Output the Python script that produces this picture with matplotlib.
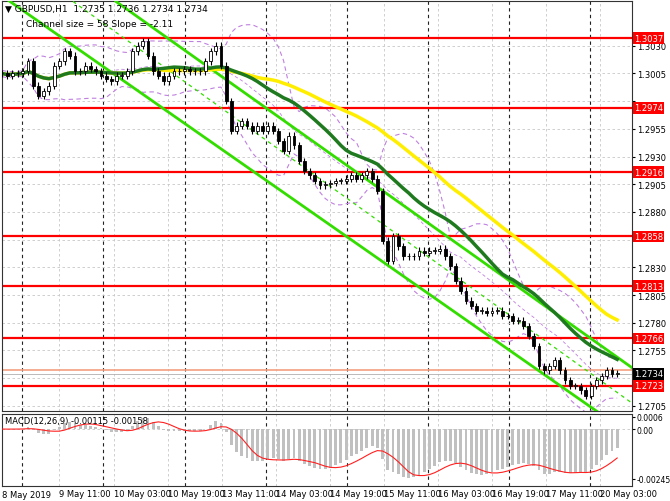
import numpy as np
import pandas as pd
import matplotlib
matplotlib.use("Agg")
import matplotlib.pyplot as plt
import matplotlib.transforms as mtrans

# closes, roughly every 1.5 trading hours
closes = [1.3005, 1.3003, 1.3005, 1.3005, 1.3007, 1.3016, 1.2994, 1.2985, 1.2989, 1.2994,
          1.3012, 1.3016, 1.3025, 1.3021, 1.3007, 1.3007, 1.3012, 1.3009, 1.3007, 1.3003,
          1.3000, 1.2998, 1.3003, 1.3003, 1.3007, 1.3025, 1.3030, 1.3034, 1.3021, 1.3007,
          1.3003, 1.2998, 1.3003, 1.3007, 1.3007, 1.3009, 1.3007, 1.3007, 1.3007, 1.3016,
          1.3025, 1.3030, 1.3012, 1.2980, 1.2953, 1.2958, 1.2962, 1.2958, 1.2953, 1.2958,
          1.2953, 1.2958, 1.2953, 1.2944, 1.2935, 1.2949, 1.2940, 1.2926, 1.2917, 1.2913,
          1.2908, 1.2904, 1.2905, 1.2906, 1.2908, 1.2908, 1.2910, 1.2913, 1.2910, 1.2913,
          1.2917, 1.2910, 1.2899, 1.2854, 1.2836, 1.2858, 1.2849, 1.2840, 1.2840, 1.2840,
          1.2845, 1.2843, 1.2845, 1.2845, 1.2847, 1.2840, 1.2831, 1.2818, 1.2809, 1.2800,
          1.2795, 1.2791, 1.2791, 1.2789, 1.2791, 1.2791, 1.2786, 1.2786, 1.2782, 1.2782,
          1.2777, 1.2768, 1.2759, 1.2741, 1.2737, 1.2741, 1.2746, 1.2737, 1.2728, 1.2723,
          1.2723, 1.2719, 1.2714, 1.2723, 1.2728, 1.2732, 1.2737, 1.2734, 1.2734]
levels = [1.3037, 1.2974, 1.2916, 1.2858, 1.2813, 1.2766, 1.2723]
last_price = 1.2734
ask_line = 1.2737

# trading hours since 8 May 00:00 (weekend removed)
t_start, t_end = 18, 200
tick_hours = [35, 51, 67, 83, 99, 115, 131, 147, 163, 179, 195]
tick_labels = ["9 May 11:00", "10 May 03:00", "10 May 19:00", "13 May 11:00", "14 May 03:00",
               "14 May 19:00", "15 May 11:00", "16 May 03:00", "16 May 19:00", "17 May 11:00",
               "20 May 03:00"]
day_seps = [24, 48, 72, 96, 120, 144, 168, 192]

# regression channel endpoints (hour, price)
ch_lower = [(18, 1.3075), (195, 1.2698)]
ch_upper = [(51.7, 1.3070), (206, 1.2736)]
ch_mid = [(39, 1.3070), (206, 1.2704)]

px_h = 3.38
xmin = t_start
xmax = t_start + 630 / px_h

s = pd.Series(closes)
x = np.linspace(t_start, t_end, len(closes))
opens = s.shift(1).fillna(s.iloc[0])
ma_fast = s.rolling(24, min_periods=1).mean()
ma_slow = s.rolling(44, min_periods=1).mean()
bb_mid = s.rolling(14, min_periods=1).mean()
bb_std = s.rolling(14, min_periods=2).std().bfill()
ema12 = s.ewm(span=8).mean()
ema26 = s.ewm(span=18).mean()
macd = ema12 - ema26
signal = macd.rolling(6, min_periods=1).mean()

fig = plt.figure(figsize=(6.7, 5.02), dpi=100)
ax = fig.add_axes([2 / 670, 90 / 502, 630 / 670, 410 / 502])
axm = fig.add_axes([2 / 670, 15 / 502, 630 / 670, 72 / 502])

for a in (ax, axm):
    a.set_xlim(xmin, xmax)
    a.yaxis.tick_right()
    a.tick_params(labelsize=6, length=2, pad=2)
    for sp in a.spines.values():
        sp.set_color("#333333")
        sp.set_linewidth(0.8)
    for h in tick_hours:
        a.axvline(h, color="#c8c8c8", ls=(0, (3, 3)), lw=0.6, zorder=0)
    for h in day_seps:
        a.axvline(h, color="#222222", ls=(0, (3, 3)), lw=0.8, zorder=0)

ax.set_ylim(1.27004, 1.30704)
pticks = np.arange(1.2705, 1.3031, 0.0025)
ax.set_yticks(pticks)
ax.set_yticklabels(["" if min(abs(p - lv) for lv in levels + [last_price]) < 0.0006 else f"{p:.4f}"
                    for p in pticks])
for p in pticks:
    ax.axhline(p, color="#c8c8c8", ls=(0, (3, 3)), lw=0.6, zorder=0)
ax.set_xticks([])

# bollinger
ax.plot(x, bb_mid + 2 * bb_std, color="#c080e0", ls=(0, (4, 3)), lw=0.8, zorder=1)
ax.plot(x, bb_mid - 2 * bb_std, color="#c080e0", ls=(0, (4, 3)), lw=0.8, zorder=1)
ax.plot(x, bb_mid, color="#c080e0", ls=(0, (4, 3)), lw=0.6, zorder=1)

for lv in levels:
    ax.axhline(lv, color="#ff0000", lw=1.6, zorder=2)
ax.axhline(ask_line, color="#f4a080", lw=1.2, zorder=2)
ax.axhline(last_price, color="#b0b0b0", lw=0.6, zorder=2)

for seg, ls in ((ch_lower, "-"), (ch_upper, "-"), (ch_mid, (0, (3, 3)))):
    ax.plot([seg[0][0], seg[1][0]], [seg[0][1], seg[1][1]], color="#33dd00",
            lw=2 if ls == "-" else 0.9, ls=ls, zorder=3)

ax.plot(x, ma_slow, color="#ffee00", lw=2.5, zorder=4)
ax.plot(x, ma_fast, color="#1f7a1f", lw=2.5, zorder=4)

# candles
w = (x[1] - x[0]) * 0.55
for xi, o, c in zip(x, opens, s):
    hi, lo = max(o, c) + 0.0003, min(o, c) - 0.0003
    ax.vlines(xi, lo, hi, color="black", lw=0.8, zorder=5)
    body = max(abs(c - o), 0.00005)
    ax.bar(xi, body, bottom=min(o, c), width=w, color="white" if c >= o else "black",
           edgecolor="black", lw=0.6, zorder=6)

tr = mtrans.blended_transform_factory(ax.transAxes, ax.transData)
for lv in levels:
    ax.text(1.003, lv, f"{lv:.4f}", transform=tr, fontsize=6, color="white", va="center",
            ha="left", bbox=dict(boxstyle="square,pad=0.15", fc="#ff0000", ec="none"), zorder=10)
ax.text(1.003, last_price, f"{last_price:.4f}", transform=tr, fontsize=6, color="white",
        va="center", ha="left", bbox=dict(boxstyle="square,pad=0.15", fc="black", ec="none"), zorder=11)

ax.text(0.005, 0.993, "\u25bc GBPUSD,H1  1.2735 1.2736 1.2734 1.2734", transform=ax.transAxes,
        fontsize=6.5, va="top", ha="left", zorder=12)
ax.text(0.038, 0.955, "Channel size = 58 Slope = -2.11", transform=ax.transAxes,
        fontsize=6.5, va="top", ha="left", zorder=12)

# macd
axm.set_ylim(-0.0028, 0.00074)
axm.set_yticks([0.0006, 0.0, -0.00245])
axm.set_yticklabels(["0.0006", "0.00", "-0.00245"])
axm.tick_params(axis="y", labelsize=5.5, pad=1)
axm.axhline(0.0, color="#c8c8c8", ls=(0, (3, 3)), lw=0.6, zorder=0)
axm.bar(x, macd, width=w, color="#c0c0c0", zorder=2)
axm.plot(x, signal, color="#ff2020", lw=0.8, zorder=3)
axm.text(0.005, 0.97, "MACD(12,26,9) -0.00115 -0.00158", transform=axm.transAxes,
         fontsize=6, va="top", ha="left", zorder=5)
axm.set_xticks(tick_hours)
axm.set_xticklabels(tick_labels, ha="left")
axm.tick_params(axis="x", labelsize=6, length=0, pad=2)
axm.text(0.0, -0.06, "8 May 2019", transform=axm.transAxes, fontsize=6, va="top", ha="left")

fig.savefig("out.png", dpi=100)
